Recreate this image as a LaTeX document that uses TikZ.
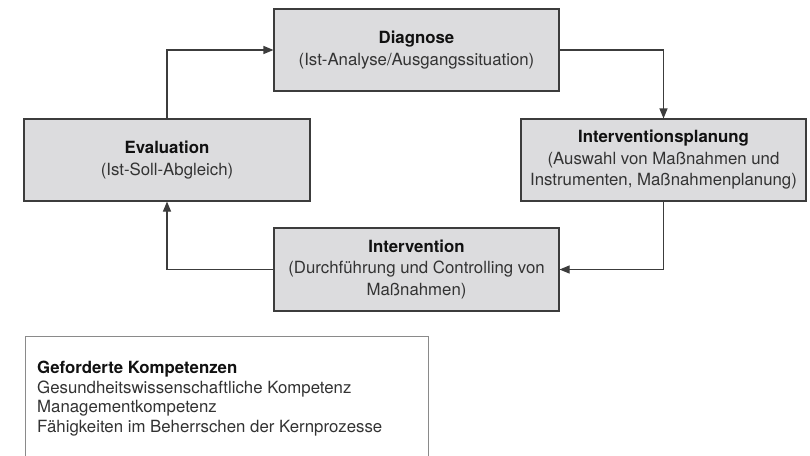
\documentclass[tikz,border=0pt]{standalone}
\usepackage{fontspec}
\setmainfont{TeX Gyre Heros}
\usetikzlibrary{arrows.meta}
\definecolor{boxfill}{HTML}{DCDCDE}
\definecolor{boxline}{HTML}{3C3C3C}
\definecolor{txt}{HTML}{333333}
\definecolor{hd}{HTML}{111111}
\definecolor{kline}{HTML}{8A8A8A}
\begin{document}
\begin{tikzpicture}[x=1pt,y=-1pt,
  phase/.style={draw=boxline, fill=boxfill, line width=1.1pt, minimum width=285pt,
    minimum height=82pt, inner sep=0pt, align=center, text=txt,
    font=\fontsize{16.8}{21.5}\selectfont},
  conn/.style={draw=boxline, line width=1.1pt, -{Triangle[length=10pt,width=8pt]}}
]
\clip (0,0) rectangle (810,455);
\fill[white] (0,0) rectangle (810,455);

\node[phase] (diag) at (416.5,50) {\textcolor{hd}{\textbf{Diagnose}}\\(Ist-Analyse/Ausgangssituation)};
\node[phase] (plan) at (663.5,160) {\textcolor{hd}{\textbf{Interventionsplanung}}\\(Auswahl von Maßnahmen und\\Instrumenten, Maßnahmenplanung)};
\node[phase, minimum width=286pt] (eval) at (167,160) {\textcolor{hd}{\textbf{Evaluation}}\\(Ist-Soll-Abgleich)};
\node[phase, minimum height=83pt] (interv) at (416.5,269.5) {\textcolor{hd}{\textbf{Intervention}}\\(Durchführung und Controlling von\\Maßnahmen)};

\draw[conn] (diag.east) -| (plan.north);
\draw[conn] (plan.south) |- (interv.east);
\draw[conn] (interv.west) -| (eval.south);
\draw[conn] (eval.north) |- (diag.west);

\node[draw=kline, line width=1pt, anchor=north west, minimum width=403pt, minimum height=140pt, inner sep=0pt] (kbox) at (25,336) {};
\node[anchor=north west, align=left, inner sep=0pt, text=txt, font=\fontsize{16.8}{19.5}\selectfont] (ktext) at (37,361)
  {\textcolor{hd}{\textbf{Geforderte Kompetenzen}}\\Gesundheitswissenschaftliche Kompetenz\\Managementkompetenz\\Fähigkeiten im Beherrschen der Kernprozesse};
\end{tikzpicture}
\end{document}
